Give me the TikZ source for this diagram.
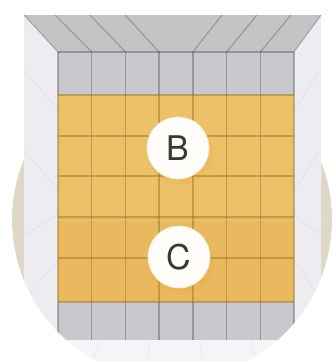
\documentclass[tikz,border=0pt]{standalone}
\usepackage{fontspec}
\setsansfont{TeX Gyre Heros}
\usepackage{xcolor}
\usetikzlibrary{positioning}

\definecolor{backdrop}{RGB}{224,216,199}
\definecolor{wallgray}{RGB}{237,237,241}
\definecolor{floorgray}{RGB}{245,245,247}
\definecolor{ceilgray}{RGB}{196,196,199}
\definecolor{rowgray}{RGB}{201,201,205}
\definecolor{tileyellow}{RGB}{236,194,104}
\definecolor{tileorange}{RGB}{232,185,94}
\definecolor{tileline}{RGB}{150,110,30}
\definecolor{markerfill}{RGB}{254,253,249}
\definecolor{markerrim}{RGB}{243,232,206}
\definecolor{markertext}{RGB}{58,56,50}

\begin{document}
\begin{tikzpicture}[x=0.03cm, y=-0.03cm,
    tile/.style={draw=tileline, draw opacity=0.45, line width=1.2pt},
    grayline/.style={draw=black, draw opacity=0.25, line width=1.2pt},
    ceilline/.style={draw=black, draw opacity=0.2, line width=1.1pt},
    wallline/.style={draw=black, draw opacity=0.04, line width=0.8pt},
    marker/.style={circle, fill=markerfill, draw=markerrim, line width=0.6pt, minimum size=1.86cm, inner sep=0pt, font=\sffamily\fontsize{29}{29}\selectfont, text=markertext}
]
\useasboundingbox (0,0) rectangle (334,361);

% backdrop disc
\fill[backdrop] (172,220) circle (160);

% floor and side walls
\fill[floorgray] (58,340) -- (294,340) -- (330,390) -- (18,390) -- cycle;
\fill[wallgray] (24,15) -- (58,52) -- (58,340) -- (24,388) -- cycle;
\fill[wallgray] (321,15) -- (294,52) -- (294,340) -- (321,388) -- cycle;
\draw[wallline] (24,70) -- (58,110);
\draw[wallline] (24,150) -- (58,190);
\draw[wallline] (24,235) -- (58,215);
\draw[wallline] (24,300) -- (58,260);
\draw[wallline] (321,70) -- (294,110);
\draw[wallline] (321,150) -- (294,190);
\draw[wallline] (321,235) -- (294,215);
\draw[wallline] (321,300) -- (294,260);
\draw[wallline] (100,340) -- (80,390);
\draw[wallline] (150,340) -- (145,390);
\draw[wallline] (200,340) -- (205,390);
\draw[wallline] (250,340) -- (270,390);

% ceiling
\fill[ceilgray] (24,15) -- (321,15) -- (294,52) -- (58,52) -- cycle;
\draw[ceilline] (58,52) -- (24,15);
\draw[ceilline] (91.7,52) -- (55,15);
\draw[ceilline] (125.4,52) -- (90,15);
\draw[ceilline] (159.1,52) -- (125,15);
\draw[ceilline] (192.9,52) -- (222,15);
\draw[ceilline] (226.6,52) -- (257,15);
\draw[ceilline] (260.3,52) -- (291,15);
\draw[ceilline] (294,52) -- (321,15);

% back wall tiles
\fill[rowgray] (58,52) rectangle (294,95);
\fill[tileyellow] (58,95) rectangle (294,217);
\fill[tileorange] (58,217) rectangle (294,302);
\fill[rowgray] (58,302) rectangle (294,340);
\foreach \x in {58,91.7,125.4,159.1,192.9,226.6,260.3,294} {
    \draw[grayline] (\x,52) -- (\x,95);
    \draw[tile] (\x,95) -- (\x,302);
    \draw[grayline] (\x,302) -- (\x,340);
}
\draw[grayline] (58,52) -- (294,52);
\foreach \y in {95,136,176,217,258,302}
    \draw[tile] (58,\y) -- (294,\y);

% cut away everything below the disc
\begin{scope}
\clip (0,220) rectangle (334,361);
\fill[white, even odd rule] (0,220) rectangle (334,361) (172,220) circle (160);
\end{scope}

% markers
\fill[orange, opacity=0.1] (180,152) circle (33);
\fill[orange, opacity=0.1] (181,261) circle (33);
\node[marker] (b) at (178,148) {B};
\node[marker] (c) at (179,257) {C};

\end{tikzpicture}
\end{document}
